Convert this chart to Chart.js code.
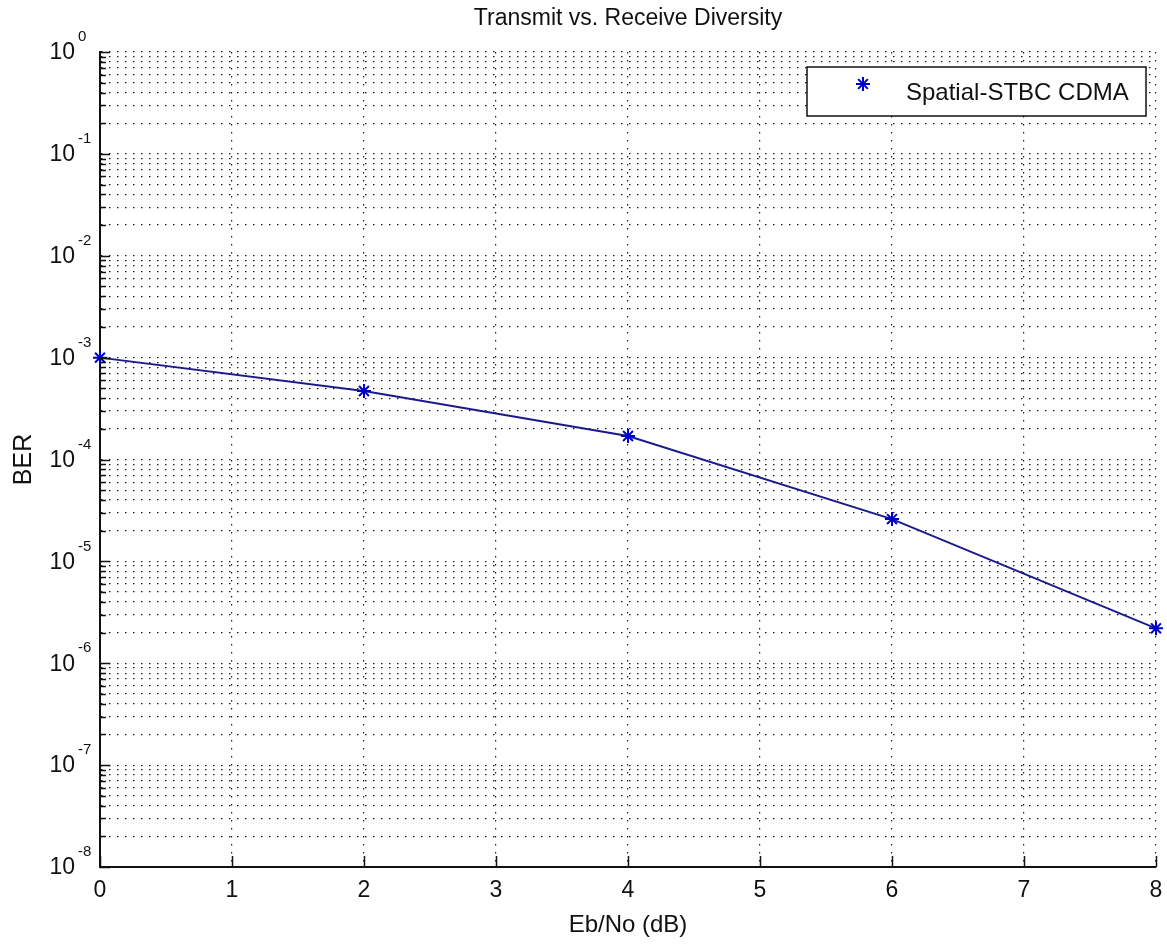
<!DOCTYPE html>
<html>
<head>
<meta charset="utf-8">
<script src="https://cdn.jsdelivr.net/npm/chart.js@4.4.1/dist/chart.umd.min.js"></script>
<style>
  html, body { margin: 0; padding: 0; background: #fff; }
  #wrap { width: 1167px; height: 944px; }
</style>
</head>
<body>
<div id="wrap"><canvas id="c" width="1167" height="944"></canvas></div>
<script>
// data
const ebno = [0, 2, 4, 6, 8];
const ber = [1.0e-3, 4.7e-4, 1.7e-4, 2.6e-5, 2.2e-6];
const seriesName = "Spatial-STBC CDMA";
const xTicks = [0, 1, 2, 3, 4, 5, 6, 7, 8];
const yExponents = [0, -1, -2, -3, -4, -5, -6, -7, -8];
const titleText = "Transmit vs. Receive Diversity";
const xLabel = "Eb/No (dB)";
const yLabel = "BER";

const FONT = '"Liberation Sans", Arial, sans-serif';

// grid lines at 1..9 x 10^e
const yGridValues = [];
yExponents.forEach(e => {
  if (e === 0) { yGridValues.push(1); return; }
  for (let k = 1; k <= 9; k++) yGridValues.push(k * Math.pow(10, e));
});

const points = ebno.map((v, i) => ({ x: v, y: ber[i] }));

// title, y tick labels, inward ticks, legend box
const decor = {
  id: "decor",
  afterDraw(chart) {
    const { ctx, chartArea: a, scales } = chart;
    const x = scales.x, y = scales.y;
    ctx.save();

    // inward tick marks
    ctx.strokeStyle = "#111";
    ctx.lineWidth = 1.5;
    ctx.beginPath();
    yGridValues.forEach(v => {
      const py = Math.round(y.getPixelForValue(v)) + 0.5;
      const major = Math.abs(Math.log10(v) - Math.round(Math.log10(v))) < 1e-9;
      ctx.moveTo(a.left, py);
      ctx.lineTo(a.left + (major ? 10 : 6), py);
    });
    xTicks.forEach(v => {
      const px = Math.round(x.getPixelForValue(v)) + 0.5;
      ctx.moveTo(px, a.bottom);
      ctx.lineTo(px, a.bottom - 11);
    });
    ctx.stroke();

    // y tick labels 10^e
    ctx.fillStyle = "#111";
    yExponents.forEach(e => {
      const py = y.getPixelForValue(Math.pow(10, e));
      ctx.font = "23px " + FONT;
      ctx.textAlign = "right";
      ctx.textBaseline = "middle";
      ctx.fillText("10", a.left - 25, py + 1);
      ctx.font = "15px " + FONT;
      ctx.textAlign = "left";
      ctx.fillText(String(e), a.left - 22, py - 15);
    });

    // main title
    ctx.font = "23px " + FONT;
    ctx.textAlign = "center";
    ctx.textBaseline = "middle";
    ctx.fillText(titleText, (a.left + a.right) / 2, 19);

    // legend
    const lx = a.right - 349, ly = a.top + 15, lw = 339, lh = 49;
    ctx.fillStyle = "#fff";
    ctx.fillRect(lx, ly, lw, lh);
    ctx.strokeStyle = "#111";
    ctx.lineWidth = 1.5;
    ctx.strokeRect(lx, ly, lw, lh);
    const sx = lx + 56, sy = ly + 17, r = 7;
    ctx.strokeStyle = "#0000cc";
    ctx.lineWidth = 2;
    ctx.beginPath();
    ctx.moveTo(sx - r, sy); ctx.lineTo(sx + r, sy);
    ctx.moveTo(sx, sy - r); ctx.lineTo(sx, sy + r);
    const d = r * 0.7;
    ctx.moveTo(sx - d, sy - d); ctx.lineTo(sx + d, sy + d);
    ctx.moveTo(sx - d, sy + d); ctx.lineTo(sx + d, sy - d);
    ctx.stroke();
    ctx.fillStyle = "#111";
    ctx.font = "24px " + FONT;
    ctx.textAlign = "left";
    ctx.textBaseline = "middle";
    ctx.fillText(seriesName, lx + 99, ly + 26);

    ctx.restore();
  }
};

new Chart(document.getElementById("c"), {
  type: "line",
  data: {
    datasets: [{
      label: seriesName,
      data: points,
      borderColor: "#1a1a8c",
      borderWidth: 2,
      pointStyle: "star",
      pointRadius: 7,
      pointBorderWidth: 2,
      pointBorderColor: "#0000cc",
      pointBackgroundColor: "#0000cc",
      tension: 0,
      clip: false
    }]
  },
  options: {
    responsive: false,
    animation: false,
    devicePixelRatio: 1,
    layout: { padding: { top: 52, right: 11, left: 0, bottom: 0 } },
    plugins: {
      legend: { display: false },
      title: { display: false },
      tooltip: { enabled: false }
    },
    scales: {
      x: {
        type: "linear",
        min: 0,
        max: 8,
        afterFit: s => { s.height = 77; s.paddingLeft = 0; s.paddingRight = 0; },
        afterBuildTicks: s => { s.ticks = xTicks.map(v => ({ value: v })); },
        ticks: {
          padding: 10,
          color: "#111",
          font: { family: FONT, size: 23 }
        },
        grid: { color: "#1a1a1a", lineWidth: 1.2, drawTicks: false },
        border: { display: true, color: "#111", width: 2, dash: [1.5, 6.5] },
        title: {
          display: true,
          text: xLabel,
          color: "#111",
          font: { family: FONT, size: 24 },
          padding: { top: 0, bottom: 4 }
        }
      },
      y: {
        type: "logarithmic",
        min: 1e-8,
        max: 1,
        afterFit: s => { s.width = 100; s.paddingTop = 0; s.paddingBottom = 0; },
        afterBuildTicks: s => { s.ticks = yGridValues.map(v => ({ value: v })); },
        ticks: { display: false },
        grid: { color: "#1a1a1a", lineWidth: 1.2, drawTicks: false },
        border: { display: true, color: "#111", width: 2, dash: [1.5, 6.5] },
        title: {
          display: true,
          text: yLabel,
          color: "#111",
          font: { family: FONT, size: 25 },
          padding: { top: 9, bottom: 0 }
        }
      }
    }
  },
  plugins: [decor]
});
</script>
</body>
</html>
